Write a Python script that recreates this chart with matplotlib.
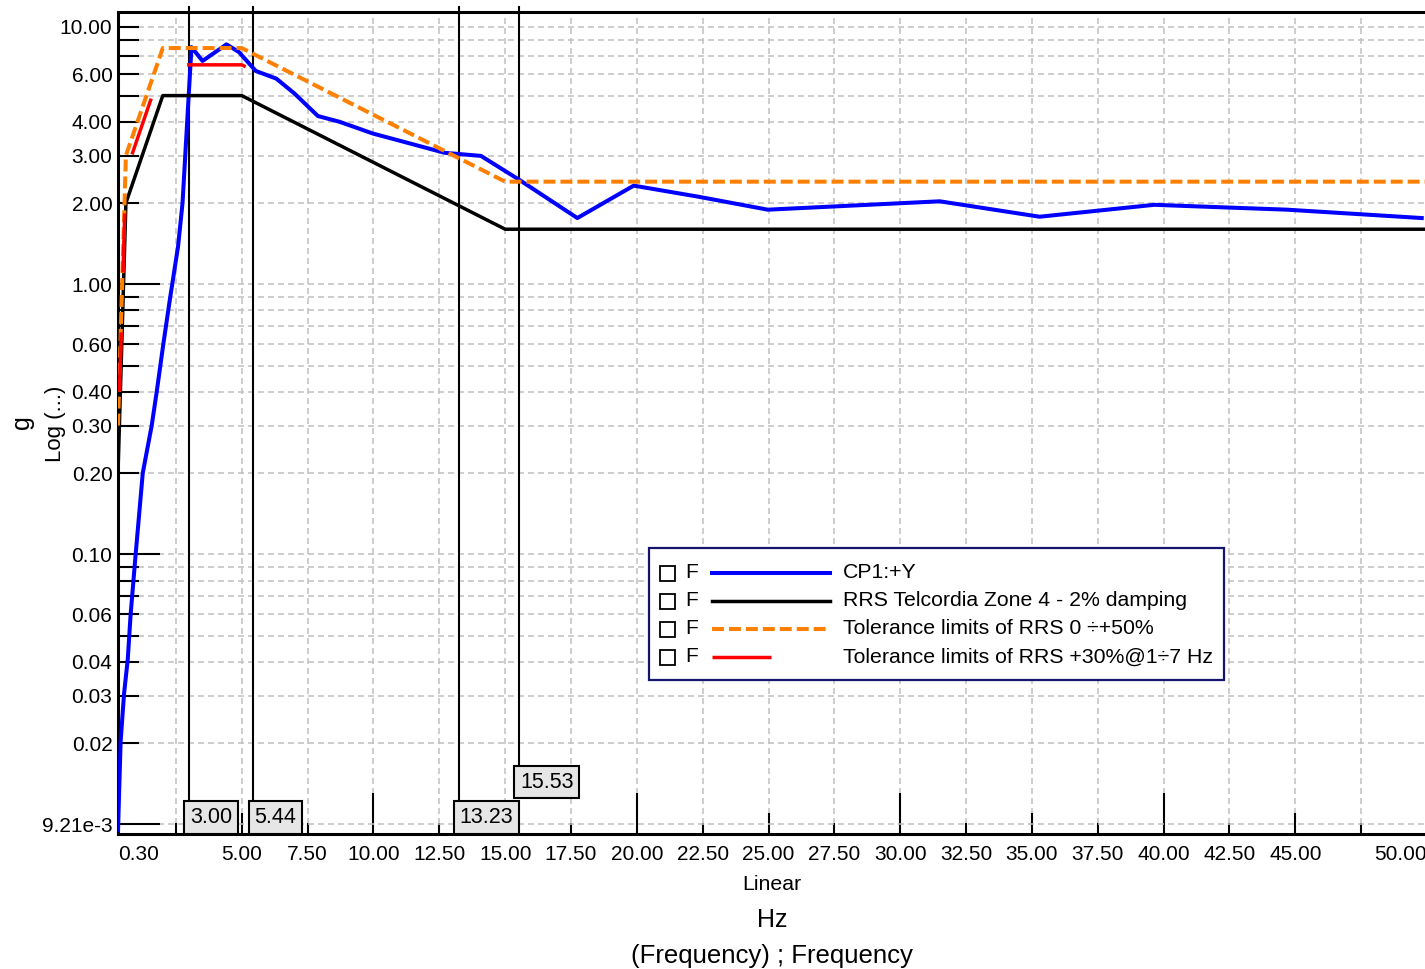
import matplotlib

matplotlib.use("Agg")

import matplotlib.pyplot as plt
import matplotlib.transforms as mtransforms
from matplotlib.lines import Line2D
from matplotlib.patches import Rectangle
from matplotlib.ticker import NullFormatter

plt.rcParams["font.family"] = ["Liberation Sans", "DejaVu Sans"]
plt.rcParams["lines.scale_dashes"] = False

# measured response CP1:+Y
cp1_freq = [0.30, 0.40, 0.53, 0.67, 0.78, 0.97, 1.24, 1.58, 1.77, 2.02, 2.27, 2.58,
            2.75, 2.93, 3.09, 3.51, 4.42, 4.89, 5.53, 6.31, 7.00, 7.89, 8.71, 9.97,
            12.70, 14.08, 15.53, 17.74, 19.88, 22.35, 24.97, 31.50, 35.29, 39.64,
            44.69, 49.80]
cp1_g = [0.0095, 0.0203, 0.0305, 0.0408, 0.060, 0.100, 0.20, 0.30, 0.40, 0.60, 0.88, 1.38,
         2.00, 4.05, 7.56, 6.72, 7.74, 7.25, 6.17, 5.78, 5.09, 4.20, 4.00, 3.62,
         3.07, 2.99, 2.44, 1.76, 2.32, 2.11, 1.89, 2.03, 1.78, 1.97,
         1.89, 1.76]

# Telcordia zone 4 required response spectrum
rrs_freq = [0.3, 0.6, 2.0, 5.0, 15.0, 50.0]
rrs_g = [0.2, 2.0, 5.0, 5.0, 1.6, 1.6]

# tolerance 0 / +50 %
tol50_freq = [0.3, 0.6, 2.0, 5.0, 15.0, 50.0]
tol50_g = [0.3, 3.0, 7.5, 7.5, 2.4, 2.4]

# tolerance +30 % between 1 and 7 Hz
tol30_freq = [0.3, 0.6, 2.0, 5.0, 7.0]
tol30_g = [0.26, 2.6, 6.5, 6.5, 5.17]

cursor_freqs = [3.00, 5.44, 13.23, 15.53]
cursor_rows = [0, 0, 0, 1]

y_major = [0.01, 0.02, 0.03, 0.04, 0.06, 0.1, 0.2, 0.3, 0.4, 0.6, 1, 2, 3, 4, 6, 9]
y_major_labels = ["9.21e-3", "0.02", "0.03", "0.04", "0.06", "0.10", "0.20", "0.30",
                  "0.40", "0.60", "1.00", "2.00", "3.00", "4.00", "6.00", "10.00"]
y_minor = [0.05, 0.07, 0.08, 0.09, 0.5, 0.7, 0.8, 0.9, 5, 7, 8]

x_major = [0.3] + [2.5 * k for k in range(2, 19)] + [50.0]
x_minor = [2.5, 47.5]

series_labels = ["CP1:+Y", "RRS Telcordia Zone 4 - 2% damping",
                 "Tolerance limits of RRS 0 \u00f7+50%",
                 "Tolerance limits of RRS +30%@1\u00f77 Hz"]

W, H = 1425, 969


def fx(px):
    return px / W


def fy(py):
    return 1 - py / H


fig = plt.figure(figsize=(W / 100, H / 100), dpi=100)
ax = fig.add_axes([fx(118), fy(834), (1427 - 118) / W, (834 - 12) / H])
ax.set_yscale("log")
ax.set_xlim(0.3, 50)
ax.set_ylim(9.21e-3, 10.2)

grid_style = dict(color="#c0c0c0", linestyle=(0, (4.3, 2.9)), linewidth=1.1)
ax.grid(True, which="both", **grid_style)
ax.set_axisbelow(True)

styles = [
    dict(color="#0000ff", lw=2.9, linestyle="-"),
    dict(color="black", lw=2.5, linestyle="-"),
    dict(color="#ff8000", lw=2.9, linestyle=(0, (8.6, 3.6))),
    dict(color="#ff0000", lw=2.5, linestyle=(49, (42.5, 43.2))),
]
ax.plot(cp1_freq, cp1_g, zorder=3, **styles[0])
ax.plot(rrs_freq, rrs_g, zorder=4, **styles[1])
ax.plot(tol50_freq, tol50_g, zorder=5, **styles[2])
ax.plot(tol30_freq, tol30_g, zorder=6, **styles[3])

# ticks
ax.set_yticks(y_major, labels=y_major_labels)
ax.set_yticks(y_minor, minor=True)
ax.yaxis.set_minor_formatter(NullFormatter())
ax.set_xticks(x_major, labels=[f"{v:.2f}" for v in x_major])
ax.set_xticks(x_minor, minor=True)
ax.xaxis.set_minor_formatter(NullFormatter())
ax.tick_params(axis="both", which="both", direction="in", width=1.5, color="black",
               labelsize=15, top=False, right=False)
ax.tick_params(axis="y", which="both", length=15, pad=4)
ax.tick_params(axis="x", which="both", length=8, pad=8)

for tick, val in zip(ax.yaxis.get_major_ticks(), y_major):
    if val in (0.01, 0.1, 1):
        tick.tick1line.set_markersize(30)
for tick, val in zip(ax.xaxis.get_major_ticks(), x_major):
    if val == 0.3:
        tick.tick1line.set_markersize(0)
    elif val % 10 == 0:
        tick.tick1line.set_markersize(29.5)
    elif val % 5 == 0:
        tick.tick1line.set_markersize(15)

xlabels = ax.get_xticklabels()
xlabels[0].set_ha("left")
xlabels[-1].set_ha("right")

for side in ("left", "bottom", "top"):
    ax.spines[side].set_linewidth(2.2)
ax.spines["right"].set_visible(False)

# cursors with value boxes
blend = mtransforms.blended_transform_factory(ax.transData, ax.transAxes)
for f, row in zip(cursor_freqs, cursor_rows):
    box_bottom = 35.5 * row / 822
    ax.plot([f, f], [box_bottom + 35 / 822, 1.006], transform=blend, color="black",
            lw=1.5, clip_on=False, zorder=2)
    off = mtransforms.ScaledTranslation(1.0 / 100, (6.0 + 35.5 * row) / 100,
                                        fig.dpi_scale_trans)
    ax.text(f, 0, f"{f:.2f}", transform=blend + off, ha="left", va="bottom",
            fontsize=15.5, zorder=8,
            bbox=dict(boxstyle="square,pad=0.27", fc="#e6e6e6", ec="black", lw=1.5))

# legend frame
fig.add_artist(Rectangle((fx(649), fy(680)), (1224 - 649) / W, (680 - 548) / H,
                         transform=fig.transFigure, fc="white", ec="#14146e",
                         lw=1.6, zorder=10))
for i, (label, st) in enumerate(zip(series_labels, styles)):
    yc = 573 + 28 * i
    fig.add_artist(Rectangle((fx(660), fy(yc + 7.5)), 15 / W, 15 / H,
                             transform=fig.transFigure, fc="white", ec="black",
                             lw=1.3, zorder=11))
    fig.text(fx(692), fy(yc), "F", fontsize=15, ha="center", va="center", zorder=11)
    ls = st["linestyle"]
    if isinstance(ls, tuple):
        ls = (0, ls[1])
    fig.add_artist(Line2D([fx(712), fx(830)], [fy(yc), fy(yc)], transform=fig.transFigure,
                          color=st["color"], lw=st["lw"], linestyle=ls, zorder=11))
    fig.text(fx(843), fy(yc), label, fontsize=15.3, ha="left", va="center", zorder=11)

# axis titles
fig.text(fx(772), fy(885), "Linear", fontsize=15.3, ha="center", va="center")
fig.text(fx(772), fy(920), "Hz", fontsize=18, ha="center", va="center")
fig.text(fx(772), fy(956), "(Frequency) ; Frequency", fontsize=18.5, ha="center", va="center")
fig.text(fx(22), fy(422), "g", fontsize=18, rotation=90, ha="center", va="center")
fig.text(fx(55), fy(424), "Log (...)", fontsize=16, rotation=90, ha="center", va="center")

fig.savefig("out.png", dpi=100)
